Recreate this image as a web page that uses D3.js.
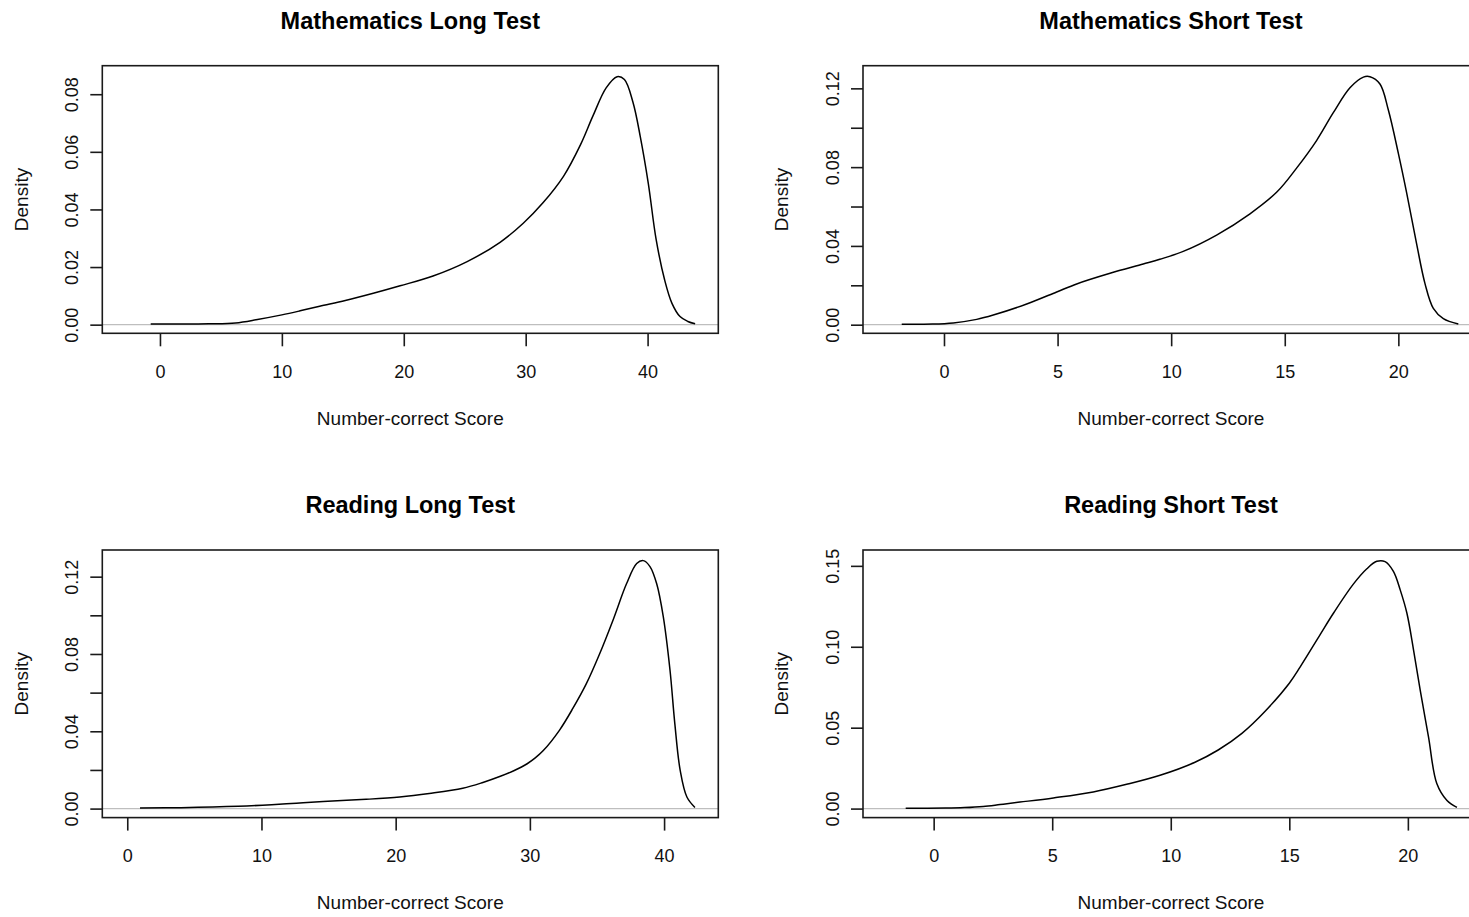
<!DOCTYPE html>
<html>
<head>
<meta charset="utf-8">
<script src="https://cdn.jsdelivr.net/npm/d3@7"></script>
<style>
  body { margin: 0; background: #fff; }
  svg { display: block; font-family: "Liberation Sans", Arial, sans-serif; }
</style>
</head>
<body>
<script>
// density curves (score, density)
const mathLongX = [-0.76, 2, 4, 6.2, 8, 10, 11.5, 13.1, 15.2, 17.5, 19.7, 22.4, 25.2, 27.9, 29.8, 31.4, 33.1, 34.5, 35.5, 36.6, 37.5, 38.1, 38.8, 39.4, 40.06, 40.7, 41.4, 42.0, 42.66, 43.3, 43.9]
const mathLongY = [0.0002, 0.0002, 0.0003, 0.0006, 0.0018, 0.0034, 0.0048, 0.0064, 0.0084, 0.0109, 0.0135, 0.0169, 0.0219, 0.0286, 0.0352, 0.0422, 0.0515, 0.0625, 0.0723, 0.0822, 0.0861, 0.0851, 0.0772, 0.0653, 0.049, 0.0296, 0.0155, 0.0074, 0.0028, 0.0011, 0.0003]

const mathShortX = [-1.86, -0.5, 0.41, 1.44, 2.17, 3.64, 4.96, 5.84, 7.31, 8.77, 9.5, 10.53, 12.0, 13.47, 14.64, 15.52, 16.4, 17.13, 17.87, 18.46, 18.75, 19.19, 19.56, 20.0, 20.37, 20.8, 21.17, 21.54, 21.98, 22.64]
const mathShortY = [0.0002, 0.0003, 0.0009, 0.0027, 0.0049, 0.0105, 0.0166, 0.0207, 0.0261, 0.0308, 0.0332, 0.0372, 0.0455, 0.0563, 0.0672, 0.0795, 0.0935, 0.1075, 0.1203, 0.1257, 0.1259, 0.1222, 0.109, 0.087, 0.0667, 0.0413, 0.021, 0.0083, 0.0031, 0.0004]

const readLongX = [0.95, 4, 8.27, 10.76, 12.6, 14.6, 17.8, 20.3, 22.5, 25, 26.5, 27.8, 28.8, 29.8, 30.4, 31.0, 32.2, 33.2, 34.2, 35.2, 36.2, 37.2, 37.96, 38.45, 38.95, 39.45, 39.94, 40.44, 40.8, 41.2, 41.7, 42.3]
const readLongY = [0.0003, 0.0005, 0.0012, 0.002, 0.0028, 0.0037, 0.0048, 0.006, 0.0078, 0.0105, 0.0135, 0.0167, 0.0196, 0.0232, 0.0262, 0.030, 0.0405, 0.0518, 0.0645, 0.0801, 0.0976, 0.1163, 0.1268, 0.1283, 0.1252, 0.1163, 0.0993, 0.0717, 0.044, 0.0198, 0.006, 0.0006]

const readShortX = [-1.18, 0.5, 1.3, 2.09, 2.8, 3.64, 5.05, 6.73, 8.14, 9.55, 11, 12, 13, 14, 15, 15.46, 16.3, 16.86, 17.7, 18.27, 18.69, 19.04, 19.39, 19.68, 19.96, 20.24, 20.52, 20.87, 21.22, 21.65, 22.07]
const readShortY = [0.0002, 0.0003, 0.0006, 0.0013, 0.0025, 0.004, 0.0066, 0.0103, 0.015, 0.0206, 0.0285, 0.0362, 0.0465, 0.0605, 0.0775, 0.0876, 0.1075, 0.1207, 0.1387, 0.1482, 0.1528, 0.1526, 0.1466, 0.135, 0.1207, 0.098, 0.0732, 0.0443, 0.0155, 0.005, 0.0008]

// tick values
const xTicksLong = [0, 10, 20, 30, 40]
const xTicksShort = [0, 5, 10, 15, 20]
const yTicksMathLong = [0, 0.02, 0.04, 0.06, 0.08]
const yTicksStep02 = [0, 0.02, 0.04, 0.06, 0.08, 0.10, 0.12]
const yLabelsStep04 = [0, 0.04, 0.08, 0.12]
const yTicksReadShort = [0, 0.05, 0.10, 0.15]

const titles = ['Mathematics Long Test', 'Mathematics Short Test', 'Reading Long Test', 'Reading Short Test']
const xTitle = 'Number-correct Score'
const yTitle = 'Density'

const width = 1469
const height = 917
const cellW = 760.7
const cellH = 484.3
const boxLeft = 102.3
const boxTop = 65.7
const boxW = 616
const boxH = 267.6

const panels = [
  {title: titles[0], xs: mathLongX, ys: mathLongY, xDom: [-4.73, 45.8], yDom: [-0.003, 0.0899], xTicks: xTicksLong, yTicks: yTicksMathLong, yLabels: yTicksMathLong},
  {title: titles[1], xs: mathShortX, ys: mathShortY, xDom: [-3.565, 23.55], yDom: [-0.00437, 0.1315], xTicks: xTicksShort, yTicks: yTicksStep02, yLabels: yLabelsStep04},
  {title: titles[2], xs: readLongX, ys: readLongY, xDom: [-1.86, 44.04], yDom: [-0.00466, 0.1338], xTicks: xTicksLong, yTicks: yTicksStep02, yLabels: yLabelsStep04},
  {title: titles[3], xs: readShortX, ys: readShortY, xDom: [-2.98, 23.0], yDom: [-0.00557, 0.1598], xTicks: xTicksShort, yTicks: yTicksReadShort, yLabels: yTicksReadShort}
]

const svg = d3.select('body').append('svg').attr('width', width).attr('height', height)

const drawPanel = (p, i) => {
  const col = i % 2
  const row = Math.floor(i / 2)
  const g = svg.append('g').attr('transform', `translate(${col * cellW + boxLeft},${row * cellH + boxTop})`)

  const x = d3.scaleLinear().domain(p.xDom).range([0, boxW])
  const y = d3.scaleLinear().domain(p.yDom).range([boxH, 0])

  // zero line
  g.append('line')
    .attr('x1', 0).attr('x2', boxW)
    .attr('y1', y(0)).attr('y2', y(0))
    .attr('stroke', '#bebebe').attr('stroke-width', 1.2)

  const pts = p.xs.map((v, k) => [v, p.ys[k]])
  const line = d3.line().x(d => x(d[0])).y(d => y(d[1])).curve(d3.curveCatmullRom.alpha(0.5))
  g.append('path')
    .attr('d', line(pts))
    .attr('fill', 'none')
    .attr('stroke', '#000')
    .attr('stroke-width', 1.5)

  // x axis
  const xAxis = g.append('g').attr('transform', `translate(0,${boxH})`)
    .call(d3.axisBottom(x).tickValues(p.xTicks).tickSize(13).tickFormat(d3.format('d')))
  xAxis.select('.domain').remove()
  xAxis.selectAll('line').attr('stroke', '#1a1a1a').attr('stroke-width', 1.6)
  xAxis.selectAll('text').attr('y', 44.5).attr('dy', 0)
    .attr('font-size', 18).attr('fill', '#111')

  // y axis
  const fmt = d3.format('.2f')
  const yAxis = g.append('g')
    .call(d3.axisLeft(y).tickValues(p.yTicks).tickSize(12)
      .tickFormat(d => p.yLabels.some(v => Math.abs(v - d) < 1e-9) ? fmt(d) : ''))
  yAxis.select('.domain').remove()
  yAxis.selectAll('line').attr('stroke', '#1a1a1a').attr('stroke-width', 1.6)
  yAxis.selectAll('text')
    .attr('x', 0).attr('y', 0).attr('dy', 0)
    .attr('text-anchor', 'middle')
    .attr('transform', 'translate(-24,0) rotate(-90)')
    .attr('font-size', 18).attr('fill', '#111')

  // frame
  g.append('rect')
    .attr('width', boxW).attr('height', boxH)
    .attr('fill', 'none').attr('stroke', '#1a1a1a').attr('stroke-width', 1.6)

  g.append('text')
    .text(p.title)
    .attr('x', boxW / 2).attr('y', -36.7)
    .attr('text-anchor', 'middle')
    .attr('font-weight', 'bold').attr('font-size', 23.5).attr('fill', '#000')

  g.append('text')
    .text(xTitle)
    .attr('x', boxW / 2).attr('y', boxH + 91.7)
    .attr('text-anchor', 'middle')
    .attr('font-size', 19).attr('fill', '#111')

  g.append('text')
    .text(yTitle)
    .attr('text-anchor', 'middle')
    .attr('transform', `translate(${27.5 - boxLeft},${boxH / 2}) rotate(-90)`)
    .attr('font-size', 19).attr('fill', '#111')
}

panels.forEach(drawPanel)
</script>
</body>
</html>
